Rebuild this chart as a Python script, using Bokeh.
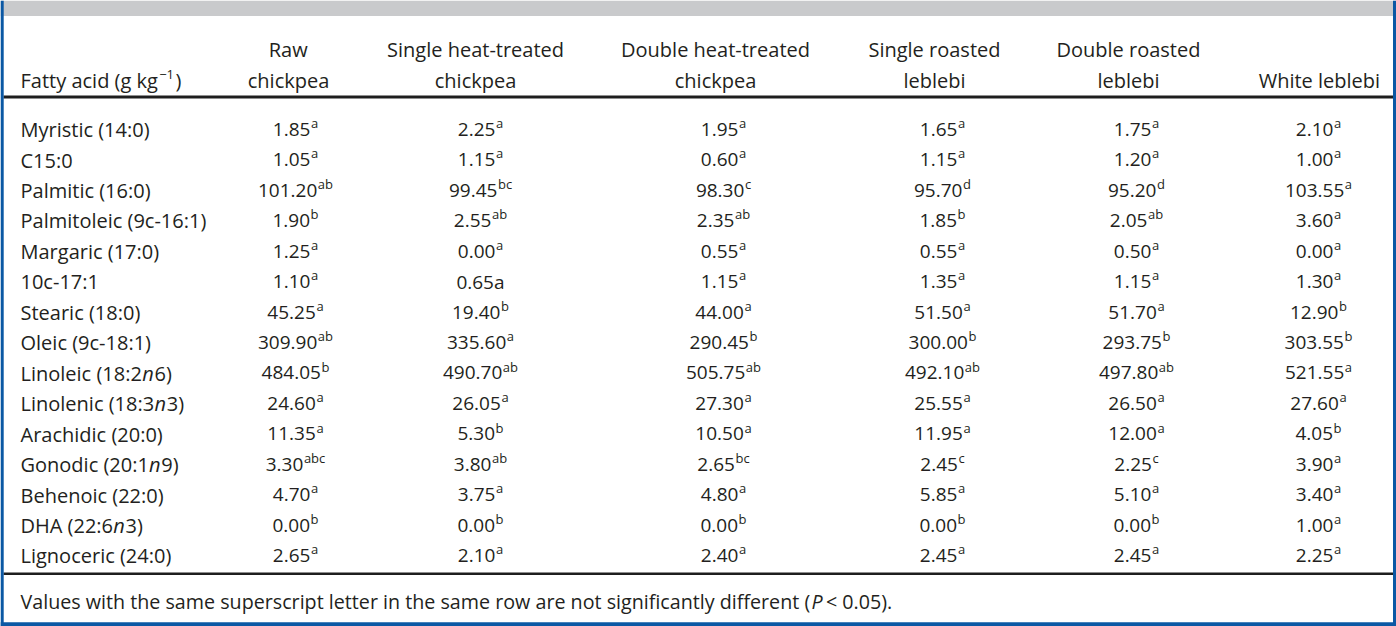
import re
from bokeh.plotting import figure
from bokeh.models import Range1d, ColumnDataSource
from bokeh.core.properties import value, field
from bokeh.embed import file_html
from bokeh.resources import INLINE

# ---------------- data ----------------
fatty_acids = ["Myristic (14:0)", "C15:0", "Palmitic (16:0)", "Palmitoleic (9c-16:1)",
               "Margaric (17:0)", "10c-17:1", "Stearic (18:0)", "Oleic (9c-18:1)",
               "Linoleic (18:2n6)", "Linolenic (18:3n3)", "Arachidic (20:0)",
               "Gonodic (20:1n9)", "Behenoic (22:0)", "DHA (22:6n3)", "Lignoceric (24:0)"]

header_line1 = ["Raw", "Single heat-treated", "Double heat-treated",
                "Single roasted", "Double roasted", ""]
header_line2 = ["chickpea", "chickpea", "chickpea", "leblebi", "leblebi", "White leblebi"]

raw_chickpea = [1.85, 1.05, 101.20, 1.90, 1.25, 1.10, 45.25, 309.90, 484.05, 24.60, 11.35, 3.30, 4.70, 0.00, 2.65]
raw_sig = ["a", "a", "ab", "b", "a", "a", "a", "ab", "b", "a", "a", "abc", "a", "b", "a"]
single_heat = [2.25, 1.15, 99.45, 2.55, 0.00, 0.65, 19.40, 335.60, 490.70, 26.05, 5.30, 3.80, 3.75, 0.00, 2.10]
single_heat_sig = ["a", "a", "bc", "ab", "a", "a", "b", "a", "ab", "a", "b", "ab", "a", "b", "a"]
double_heat = [1.95, 0.60, 98.30, 2.35, 0.55, 1.15, 44.00, 290.45, 505.75, 27.30, 10.50, 2.65, 4.80, 0.00, 2.40]
double_heat_sig = ["a", "a", "c", "ab", "a", "a", "a", "b", "ab", "a", "a", "bc", "a", "b", "a"]
single_roast = [1.65, 1.15, 95.70, 1.85, 0.55, 1.35, 51.50, 300.00, 492.10, 25.55, 11.95, 2.45, 5.85, 0.00, 2.45]
single_roast_sig = ["a", "a", "d", "b", "a", "a", "a", "b", "ab", "a", "a", "c", "a", "b", "a"]
double_roast = [1.75, 1.20, 95.20, 2.05, 0.50, 1.15, 51.70, 293.75, 497.80, 26.50, 12.00, 2.25, 5.10, 0.00, 2.45]
double_roast_sig = ["a", "a", "d", "ab", "a", "a", "a", "b", "ab", "a", "a", "c", "a", "b", "a"]
white_leblebi = [2.10, 1.00, 103.55, 3.60, 0.00, 1.30, 12.90, 303.55, 521.55, 27.60, 4.05, 3.90, 3.40, 1.00, 2.25]
white_leblebi_sig = ["a", "a", "a", "a", "a", "a", "b", "b", "a", "a", "b", "a", "a", "a", "a"]

# letter printed inline (not superscript) in the source table
inline_letters = {(5, 1)}

footnote = "Values with the same superscript letter in the same row are not significantly different ("
footnote_p = "P"
footnote_end = " < 0.05)."

columns = [(raw_chickpea, raw_sig), (single_heat, single_heat_sig), (double_heat, double_heat_sig),
           (single_roast, single_roast_sig), (double_roast, double_roast_sig),
           (white_leblebi, white_leblebi_sig)]

# ---------------- layout ----------------
FONT = "Open Sans"
TXT = "#231f20"
BLUE = "#0b58a4"
header_cx = [288, 475, 715, 934, 1128, 1319]
value_cx = [295, 480, 723, 942, 1136, 1318]
label_x = 20
row0, row_step = 122.0, 30.45
hdr_base1, hdr_base2 = 48.5, 79.5
LBL, NUM, SUP, FOOT = 20, 19, 13, 19.7

W = {' ': .260, '(': .296, ')': .296, '-': .322, '.': .266, ':': .266, '<': .572, '−': .572,
     'A': .633, 'C': .631, 'D': .729, 'F': .55, 'G': .725, 'H': .738, 'L': .535, 'M': .903,
     'P': .611, 'R': .635, 'S': .547, 'V': .608, 'W': .931,
     'a': .556, 'b': .613, 'c': .476, 'd': .613, 'e': .561, 'f': .339, 'g': .548, 'h': .614,
     'i': .253, 'j': .253, 'k': .525, 'l': .253, 'm': .930, 'n': .614, 'o': .604, 'p': .613,
     'q': .613, 'r': .408, 's': .477, 't': .353, 'u': .614, 'v': .5, 'w': .785, 'x': .52,
     'y': .501, 'z': .46}
for d in "0123456789":
    W[d] = .572


def tw(s, size):
    return sum(W.get(ch, .55) for ch in s) * size


xs, ys, texts, sizes, styles = [], [], [], [], []


def put_runs(runs, x, align="left"):
    """runs: list of (text, size, style, baseline_y, extra_gap_after)"""
    total = sum(tw(r[0], r[1]) + r[4] for r in runs)
    cur = x - total / 2 if align == "center" else x
    for t, s, st, by, gap in runs:
        xs.append(cur); ys.append(by); texts.append(t)
        sizes.append(f"{s}px"); styles.append(st)
        cur += tw(t, s) + gap


# header
put_runs([("Fatty acid (g kg", LBL, "normal", hdr_base2, 0.5),
          ("−1", SUP, "normal", hdr_base2 - 6, 1.5),
          (")", LBL, "normal", hdr_base2, 0)], label_x)
for j in range(6):
    if header_line1[j]:
        put_runs([(header_line1[j], LBL, "normal", hdr_base1, 0)], header_cx[j], "center")
    put_runs([(header_line2[j], LBL, "normal", hdr_base2, 0)], header_cx[j], "center")

# body
for i, name in enumerate(fatty_acids):
    yc = row0 + i * row_step
    base = yc + 7.1
    parts = re.split(r"(?<=\d:\d)(n)(?=\d)", name)
    runs = []
    for k, ptxt in enumerate(parts):
        if ptxt:
            runs.append((ptxt, LBL, "italic" if (k % 2 == 1) else "normal", base, 0))
    put_runs(runs, label_x)
    for j, (vals, sig) in enumerate(columns):
        num = f"{vals[i]:.2f}"
        nb = yc + 6.8
        if (i, j) in inline_letters:
            runs = [(num + sig[i], NUM, "normal", nb, 0)]
        else:
            runs = [(num, NUM, "normal", nb, 0.5), (sig[i], SUP, "normal", nb - 6.3, 0)]
        put_runs(runs, value_cx[j], "center")

# footnote
fb = 601
put_runs([(footnote, FOOT, "normal", fb, 0), (footnote_p, FOOT, "italic", fb, 2.5),
          (footnote_end, FOOT, "normal", fb, 0)], label_x)

src = ColumnDataSource(dict(x=xs, y=ys, text=texts, size=sizes, style=styles))

# ---------------- figure ----------------
p = figure(width=1396, height=626, output_backend="svg", toolbar_location=None,
           x_range=Range1d(0, 1396), y_range=Range1d(626, 0),
           min_border=0, outline_line_color=None, background_fill_color="white",
           border_fill_color="white")
p.title.visible = False
p.axis.visible = False
p.grid.visible = False

# grey title band
p.quad(left=[0], right=[1396], top=[0], bottom=[15.5], fill_color="#c9cacc", line_color=None)
# rules
p.segment(x0=[3, 3], x1=[1393, 1393], y0=[96.5, 573.2], y1=[96.5, 573.2],
          line_color="#1e1e1e", line_width=[3.2, 2.6])
# blue frame
p.quad(left=[0, 1392.5, 0], right=[3.2, 1396, 1396], top=[0, 0, 621.8], bottom=[626, 626, 626],
       fill_color=BLUE, line_color=None)

p.text(x="x", y="y", text="text", source=src, text_font=value(FONT),
       text_font_size=field("size"), text_font_style=field("style"),
       text_color=TXT, text_baseline="alphabetic", text_align="left")

open("out.html", "w").write(file_html(p, INLINE))
